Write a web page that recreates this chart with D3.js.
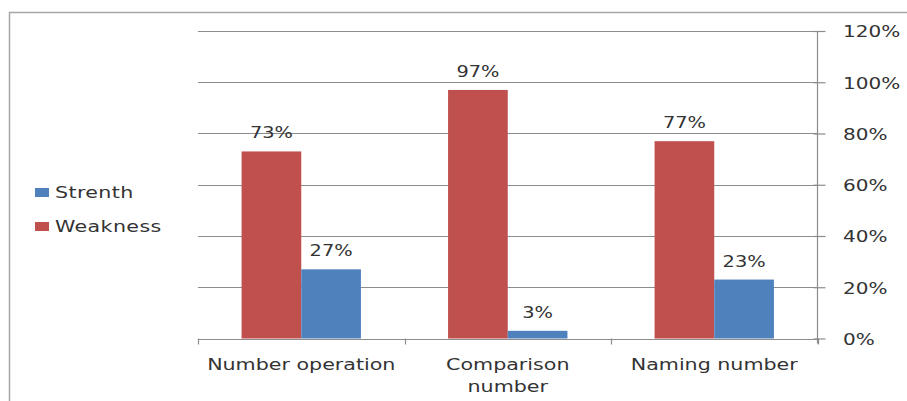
<!DOCTYPE html>
<html>
<head>
<meta charset="utf-8">
<script src="https://cdn.jsdelivr.net/npm/d3@7"></script>
<style>
  html, body { margin: 0; padding: 0; background: #fff; }
  svg { display: block; }
  text { font-family: "DejaVu Sans", Verdana, sans-serif; fill: #333; }
</style>
</head>
<body>
<svg id="chart" width="907" height="401"></svg>
<script>
// Skill areas, each with a weakness and a strength share
const categories = [["Number operation"], ["Comparison", "number"], ["Naming number"]];
const categoryKeys = ["Number operation", "Comparison number", "Naming number"];
const seriesNames = ["Weakness", "Strenth"];
const weakness = [0.73, 0.97, 0.77];
const strength = [0.27, 0.03, 0.23];
const yTicks = [0, 0.2, 0.4, 0.6, 0.8, 1.0, 1.2];
const legendOrder = ["Strenth", "Weakness"];

const colors = { "Weakness": "#C0504D", "Strenth": "#4F81BD" };
const values = { "Weakness": weakness, "Strenth": strength };
const pct = d3.format(".0%");
// Labels use a horizontally widened face
const WIDEN = 1.25;
const place = (x, y) => `translate(${x},${y}) scale(${WIDEN},1)`;

const svg = d3.select("#chart");

// Outer frame (runs off the right and bottom edges)
svg.append("rect")
  .attr("x", 9.5).attr("y", 12.5)
  .attr("width", 1000).attr("height", 500)
  .attr("fill", "none").attr("stroke", "#a6a6a6").attr("stroke-width", 1.5);

const plot = { left: 198, right: 817.5, top: 31, bottom: 338.5 };

const y = d3.scaleLinear().domain([0, 1.2]).range([plot.bottom, plot.top]);
const x0 = d3.scaleBand().domain(categoryKeys).range([plot.left, plot.right]).padding(0);
const x1 = d3.scaleBand().domain(seriesNames).range([0, x0.bandwidth()])
  .paddingInner(0).paddingOuter(0.73);

// Horizontal gridlines
svg.append("g").selectAll("line").data(yTicks).join("line")
  .attr("x1", plot.left).attr("x2", plot.right)
  .attr("y1", d => Math.round(y(d)) + 0.5).attr("y2", d => Math.round(y(d)) + 0.5)
  .attr("stroke", "#8c8c8c").attr("stroke-width", 1.2);

// Right-hand value axis
const yAxis = d3.axisRight(y).tickValues(yTicks).tickFormat(pct).tickSize(8);
const gy = svg.append("g").attr("transform", `translate(${plot.right},0)`).call(yAxis);
gy.select(".domain").attr("stroke", "#8c8c8c").attr("stroke-width", 1.2)
  .attr("d", `M0,${plot.top}V${plot.bottom + 5}`);
gy.selectAll(".tick line").attr("stroke", "#8c8c8c").attr("stroke-width", 1.2).attr("x1", -4);
gy.selectAll(".tick text")
  .attr("x", 0).attr("dy", "0.36em")
  .attr("transform", place(25.5, 0))
  .attr("font-size", 16).attr("fill", "#333")
  .attr("font-family", "DejaVu Sans, Verdana, sans-serif");

// Category axis tick marks at band boundaries
const bounds = categoryKeys.map(k => x0(k)).concat([plot.right]);
svg.append("g").selectAll("line").data(bounds).join("line")
  .attr("x1", d => Math.round(d) + 0.5).attr("x2", d => Math.round(d) + 0.5)
  .attr("y1", plot.bottom).attr("y2", plot.bottom + 6)
  .attr("stroke", "#8c8c8c").attr("stroke-width", 1.2);

// Bars
const groups = svg.append("g").selectAll("g").data(categoryKeys).join("g")
  .attr("transform", d => `translate(${x0(d)},0)`);

groups.selectAll("rect").data((d, i) => seriesNames.map(s => ({ s, v: values[s][i] })))
  .join("rect")
  .attr("x", d => x1(d.s)).attr("width", x1.bandwidth())
  .attr("y", d => y(d.v)).attr("height", d => y(0) - y(d.v))
  .attr("fill", d => colors[d.s]);

// Value labels
groups.selectAll("text.val").data((d, i) => seriesNames.map(s => ({ s, v: values[s][i] })))
  .join("text").attr("class", "val")
  .attr("transform", d => place(x1(d.s) + x1.bandwidth() / 2, y(d.v) - 13))
  .attr("text-anchor", "middle").attr("font-size", 15.5)
  .text(d => pct(d.v));

// Category labels
svg.append("g").selectAll("text").data(categoryKeys).join("text")
  .attr("transform", d => place(x0(d) + x0.bandwidth() / 2, 369.5))
  .attr("text-anchor", "middle").attr("font-size", 16.5)
  .each(function (d, i) {
    d3.select(this).selectAll("tspan").data(categories[i]).join("tspan")
      .attr("x", 0)
      .attr("dy", (t, j) => j === 0 ? 0 : 22.5)
      .text(t => t);
  });

// Legend
const legend = svg.append("g").selectAll("g").data(legendOrder).join("g")
  .attr("transform", (d, i) => `translate(35,${188 + i * 34})`);
legend.append("rect").attr("width", 14).attr("height", 9).attr("fill", d => colors[d]);
legend.append("text").attr("transform", place(20, 10)).attr("font-size", 16.5)
  .style("letter-spacing", "0.3px").text(d => d);
</script>
</body>
</html>
